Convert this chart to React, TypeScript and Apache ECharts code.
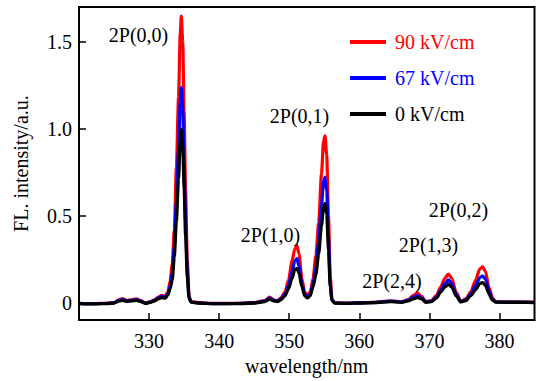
import React, { useEffect, useRef } from "react";
import * as echarts from "echarts";

const wavelength = [
  320, 321, 322, 323, 324, 325, 325.7, 326.2, 326.8, 327.5, 328.2, 328.8, 329.5, 330.2, 330.8,
  331.3, 331.8, 332.3, 332.7, 333.0, 333.3, 333.6, 333.9, 334.2, 334.45, 334.6, 334.8, 335.0,
  335.2, 335.45, 335.7, 336.0, 337, 339, 341, 343, 345, 346.5, 347.2, 347.8, 348.3, 348.8,
  349.4, 349.9, 350.4, 350.8, 351.1, 351.4, 351.8, 352.2, 352.6, 353.0, 353.4, 353.8, 354.2,
  354.6, 354.9, 355.1, 355.35, 355.6, 355.85, 356.1, 356.5, 358, 360, 362, 364.5, 366, 367,
  367.7, 368.3, 368.9, 369.5, 370.3, 371.0, 371.6, 372.2, 372.7, 373.2, 373.8, 374.5, 375.2,
  375.9, 376.6, 377.2, 377.6, 378.0, 378.5, 379.0, 379.5, 381, 383, 385,
];

const red90 = [
  -0.003, -0.005, -0.005, -0.004, -0.003, 0.0, 0.016, 0.024, 0.014, 0.017, 0.022, 0.012, -0.002,
  0.006, 0.017, 0.032, 0.042, 0.038, 0.062, 0.125, 0.22, 0.42, 0.78, 1.18, 1.55, 1.648, 1.5, 1.1,
  0.65, 0.25, 0.04, 0.006, 0.0, -0.004, -0.004, -0.003, 0.0, 0.012, 0.032, 0.016, 0.011, 0.026,
  0.062, 0.13, 0.24, 0.31, 0.328, 0.28, 0.14, 0.062, 0.042, 0.062, 0.14, 0.27, 0.46, 0.74, 0.93,
  0.959, 0.85, 0.5, 0.15, 0.02, 0.0, -0.002, 0.0, 0.002, 0.011, 0.006, 0.018, 0.042, 0.056,
  0.036, 0.006, 0.012, 0.042, 0.09, 0.14, 0.165, 0.14, 0.062, 0.009, 0.022, 0.062, 0.13, 0.195,
  0.206, 0.18, 0.09, 0.026, 0.006, 0.005, 0.004, 0.003,
];

const blue67 = [
  -0.004, -0.006, -0.006, -0.005, -0.004, -0.001, 0.013, 0.019, 0.011, 0.014, 0.018, 0.009, -0.003,
  0.004, 0.014, 0.027, 0.036, 0.032, 0.052, 0.1, 0.17, 0.32, 0.58, 0.88, 1.16, 1.236, 1.12, 0.82,
  0.48, 0.19, 0.03, 0.004, -0.001, -0.005, -0.005, -0.004, -0.001, 0.009, 0.026, 0.013, 0.009, 0.021,
  0.05, 0.1, 0.18, 0.24, 0.253, 0.21, 0.11, 0.05, 0.036, 0.05, 0.11, 0.2, 0.35, 0.56, 0.7,
  0.721, 0.64, 0.38, 0.11, 0.015, -0.001, -0.003, -0.001, 0.001, 0.009, 0.004, 0.014, 0.031, 0.041,
  0.028, 0.004, 0.009, 0.033, 0.07, 0.11, 0.131, 0.11, 0.05, 0.006, 0.017, 0.05, 0.1, 0.145,
  0.153, 0.135, 0.07, 0.02, 0.004, 0.003, 0.003, 0.002,
];

const black0 = [
  -0.005, -0.007, -0.007, -0.006, -0.005, -0.002, 0.009, 0.013, 0.008, 0.01, 0.013, 0.006, -0.004,
  0.002, 0.011, 0.022, 0.029, 0.026, 0.044, 0.08, 0.13, 0.26, 0.47, 0.71, 0.93, 0.995, 0.9, 0.66,
  0.39, 0.15, 0.025, 0.003, -0.002, -0.006, -0.006, -0.005, -0.002, 0.006, 0.02, 0.01, 0.006, 0.016,
  0.04, 0.08, 0.14, 0.19, 0.197, 0.17, 0.09, 0.04, 0.028, 0.04, 0.09, 0.16, 0.28, 0.44, 0.55,
  0.571, 0.51, 0.3, 0.09, 0.012, -0.002, -0.004, -0.002, 0.0, 0.006, 0.002, 0.01, 0.022, 0.03,
  0.022, 0.002, 0.006, 0.026, 0.06, 0.09, 0.105, 0.09, 0.04, 0.004, 0.012, 0.04, 0.075, 0.11,
  0.116, 0.1, 0.05, 0.015, 0.003, 0.002, 0.002, 0.001,
];

const seriesNames = ["90 kV/cm", "67 kV/cm", "0 kV/cm"];
const seriesColors = ["#ff0000", "#0000ff", "#000000"];
const yTicks = [0, 0.5, 1.0, 1.5];

const annotations = [
  { text: "2P(0,0)", x: 138.5, y: 35 },
  { text: "2P(0,1)", x: 299.5, y: 116 },
  { text: "2P(1,0)", x: 270.5, y: 235 },
  { text: "2P(2,4)", x: 392, y: 281 },
  { text: "2P(1,3)", x: 428.5, y: 245 },
  { text: "2P(0,2)", x: 458.5, y: 210 },
];

const FONT = "Liberation Serif";

export default function App() {
  const ref = useRef<HTMLDivElement>(null);
  useEffect(() => {
    if (!ref.current) return;
    const chart = echarts.init(ref.current, null, { renderer: "svg" });
    const allSeries = [red90, blue67, black0].map((vals, i) => ({
      name: seriesNames[i],
      type: "line",
      data: wavelength.map((w, k) => [w, vals[k]]),
      showSymbol: false,
      smooth: 0.25,
      smoothMonotone: "x",
      lineStyle: { color: seriesColors[i], width: 3.2 },
      itemStyle: { color: seriesColors[i] },
      z: 2 + i,
    }));
    chart.setOption({
      animation: false,
      backgroundColor: "#ffffff",
      textStyle: { fontFamily: FONT },
      grid: {
        left: 79,
        right: 1.5,
        top: 7,
        bottom: 54,
        show: true,
        borderColor: "#000",
        borderWidth: 2,
      },
      legend: {
        orient: "vertical",
        left: 345,
        top: 27,
        itemWidth: 36,
        itemHeight: 4,
        itemGap: 16,
        icon: "rect",
        textStyle: { fontFamily: FONT, fontSize: 20, padding: [0, 0, 0, 4] },
        data: seriesNames.map((n, i) => ({ name: n, textStyle: { color: seriesColors[i], fontFamily: FONT, fontSize: 20 } })),
      },
      xAxis: {
        type: "value",
        min: 320,
        max: 385,
        interval: 10,
        name: "wavelength/nm",
        nameLocation: "middle",
        nameGap: 30,
        nameTextStyle: { fontFamily: FONT, fontSize: 20, color: "#000" },
        axisLine: { onZero: false, lineStyle: { color: "#000", width: 2 } },
        axisTick: { inside: true, length: 7, lineStyle: { color: "#000", width: 1.5 } },
        axisLabel: {
          margin: 11,
          fontFamily: FONT,
          fontSize: 20,
          color: "#000",
          showMinLabel: false,
          showMaxLabel: false,
          formatter: (v: number) => (v === 320 || v === 385 ? "" : String(v)),
        },
        splitLine: { show: false },
      },
      yAxis: {
        type: "value",
        min: -0.1,
        max: 1.7,
        name: "FL. intensity/a.u.",
        nameLocation: "middle",
        nameGap: 48,
        nameTextStyle: { fontFamily: FONT, fontSize: 20, color: "#000" },
        axisLine: { onZero: false, lineStyle: { color: "#000", width: 2 } },
        axisTick: { inside: true, length: 7, customValues: yTicks, lineStyle: { color: "#000", width: 1.5 } },
        axisLabel: {
          customValues: yTicks,
          margin: 7,
          fontFamily: FONT,
          fontSize: 20,
          color: "#000",
          formatter: (v: number) => (v === 0 ? "0" : v.toFixed(1)),
        },
        splitLine: { show: false },
      },
      graphic: annotations.map((a) => ({
        type: "text",
        x: a.x,
        y: a.y,
        z: 10,
        style: {
          text: a.text,
          fill: "#000",
          fontFamily: FONT,
          fontSize: 20,
          align: "center",
          verticalAlign: "middle",
        },
      })),
      series: allSeries,
    });
    return () => chart.dispose();
  }, []);
  return <div ref={ref} style={{ width: 536, height: 381, position: "absolute", left: 0, top: 0 }} />;
}
